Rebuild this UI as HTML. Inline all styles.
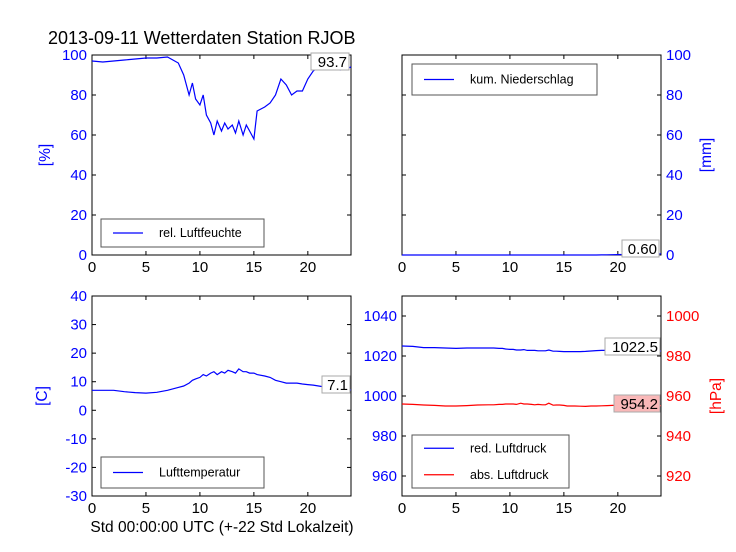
<!DOCTYPE html>
<html><head><meta charset="utf-8"><style>
body{margin:0;background:#fff}
svg{display:block;font-family:"Liberation Sans",sans-serif}
</style></head><body>
<svg id="c" width="736" height="552" viewBox="0 0 736 552">
<rect width="736" height="552" fill="#fff"/>
<text x="48" y="44" font-size="18">2013-09-11 Wetterdaten Station RJOB</text>
<text x="222" y="532" font-size="15.5" text-anchor="middle">Std 00:00:00 UTC (+-22 Std Lokalzeit)</text>
</svg>
<script>
const hours=[0,1,2,3,4,5,6,7,8,8.5,9,9.3,9.6,10,10.3,10.6,11,11.3,11.6,12,12.3,12.6,13,13.3,13.6,14,14.3,14.6,15,15.3,16,16.5,17,17.5,18,18.5,19,19.5,20,20.5,21,21.5,22,22.5,23,23.5,24];
const humidity=[97,96.5,97,97.5,98,98.5,98.5,99,96,90,80,86,78,75,80,70,66,60,67,62,66,63,65,61,67,60,65,62,58,72,74,76,80,88,85,80,82,82,88,92,94,93,93,93,92.5,93,94];
const precip=[0,0,0,0,0,0,0,0,0,0,0,0,0,0,0,0,0,0,0,0,0,0,0,0,0,0,0,0,0,0,0,0,0,0,0,0.05,0.1,0.15,0.2,0.25,0.3,0.35,0.4,0.45,0.5,0.55,0.6];
const temp=[7,7,7,6.5,6.2,6,6.3,7,8,8.5,9.5,10.5,11,11.5,12.5,12,13,13.5,12.5,13.5,13,14,13.5,13,14.5,13.5,13.5,13,13,12.5,12,11.5,10.5,10,9.5,9.5,9.5,9.2,9,8.8,8.5,8.2,8,7.8,7.5,7.2,7.1];
const redP=[1025,1024.8,1024.2,1024.2,1024,1023.8,1024,1024,1024,1024,1023.8,1023.8,1023.5,1023.3,1023.3,1023,1023,1023.2,1022.8,1022.8,1022.8,1022.6,1022.6,1022.6,1023,1022.4,1022.4,1022.3,1022.2,1022.2,1022.2,1022.2,1022.3,1022.5,1022.7,1022.8,1022.8,1022.8,1022.8,1022.6,1022.6,1022.6,1022.6,1022.5,1022.5,1022.5,1022.5];
const absP=[956,955.8,955.5,955.3,955,955,955.2,955.5,955.6,955.6,955.8,955.8,956,956,956,955.8,956.4,956,956,955.8,955.6,955.8,955.6,955.6,956.4,955.4,955.5,955.5,955.3,955,955,954.9,954.8,955,955,955.1,955.2,955.3,955.3,955.3,955.2,955.2,955.2,955.1,955.1,955.1,955.2];
const xTicks=[0,5,10,15,20];
const NS="http://www.w3.org/2000/svg";
const svg=document.getElementById('c');
function mk(tag,attrs,txt){const e=document.createElementNS(NS,tag);for(const k in attrs)e.setAttribute(k,attrs[k]);if(txt!==undefined)e.textContent=txt;svg.appendChild(e);return e;}
function panel(p){
 const fx=v=>p.x0+(v-0)/24*(p.x1-p.x0);
 const box=mk('rect',{x:p.x0,y:p.y0,width:p.x1-p.x0,height:p.y1-p.y0,fill:'none',stroke:'#000','stroke-width':1});
 
 
 xTicks.forEach(t=>{const x=fx(t);
  mk('line',{x1:x,x2:x,y1:p.y1,y2:p.y1-4,stroke:'#000'});
  mk('line',{x1:x,x2:x,y1:p.y0,y2:p.y0+4,stroke:'#000'});
  const l=mk('text',{x:x,y:p.y1+17,'font-size':15,'text-anchor':'middle'},t);
  
  
 });
 p.axes.forEach(a=>{
  const fy=v=>p.y1-(v-a.min)/(a.max-a.min)*(p.y1-p.y0);
  a.ticks.forEach(t=>{const y=fy(t);
   mk('line',{x1:p.x0,x2:p.x0+4,y1:y,y2:y,stroke:'#000'});
   mk('line',{x1:p.x1,x2:p.x1-4,y1:y,y2:y,stroke:'#000'});
   const l=mk('text',{x:a.side=='l'?p.x0-5:p.x1+5,y:y+5,'font-size':15,'text-anchor':a.side=='l'?'end':'start',fill:a.color},t);
   
   
  });
  const lx=a.lx, ly=(p.y0+p.y1)/2;
  const lab=mk('text',{x:lx,y:ly,'font-size':15.5,'text-anchor':'middle',fill:a.color,transform:`rotate(-90 ${lx} ${ly})`},a.label);
  
  
  a.series.forEach(s=>{
   const d=hours.map((h,i)=>(i?'L':'M')+fx(h).toFixed(1)+','+fy(s.data[i]).toFixed(1)).join(' ');
   const pl=mk('path',{d:d,fill:'none',stroke:s.color,'stroke-width':1.2});
   
   
  });
 });
}
panel({name:'humidity',x0:92,x1:351,y0:55,y1:255,axes:[{min:0,max:100,ticks:[0,20,40,60,80,100],side:'l',color:'#00f',label:'[%]',lx:50,series:[{data:humidity,color:'#00f',name:'humidity-line'}]}]});
panel({name:'precip',x0:402,x1:661,y0:55,y1:255,axes:[{min:0,max:100,ticks:[0,20,40,60,80,100],side:'r',color:'#00f',label:'[mm]',lx:711,series:[{data:precip,color:'#00f',name:'precip-line'}]}]});
panel({name:'temp',x0:92,x1:351,y0:296,y1:496,axes:[{min:-30,max:40,ticks:[-30,-20,-10,0,10,20,30,40],side:'l',color:'#00f',label:'[C]',lx:47,series:[{data:temp,color:'#00f',name:'temp-line'}]}]});
panel({name:'pressure',x0:402,x1:661,y0:296,y1:496,axes:[
 {min:950,max:1050,ticks:[960,980,1000,1020,1040],side:'l',color:'#00f',label:'',lx:0,series:[{data:redP,color:'#00f',name:'red-pressure-line'}]},
 {min:910,max:1010,ticks:[920,940,960,980,1000],side:'r',color:'#f00',label:'[hPa]',lx:721,series:[{data:absP,color:'#f00',name:'abs-pressure-line'}]}]});
function legend(name,x,y,w,h,items){
 const r=mk('rect',{x:x,y:y,width:w,height:h,fill:'#fff',stroke:'#555','stroke-width':1});
 
 
 items.forEach((it,i)=>{const cy=y+h/(items.length)*(i+0.5);
  mk('line',{x1:x+12,x2:x+42,y1:cy,y2:cy,stroke:it.c,'stroke-width':1.2});
  const t=mk('text',{x:x+58,y:cy+4,'font-size':12.5},it.t);
  
  
 });
}
legend('humidity-legend',101,219,163,28,[{c:'#00f',t:'rel. Luftfeuchte'}]);
legend('precip-legend',412,64,185,31,[{c:'#00f',t:'kum. Niederschlag'}]);
legend('temp-legend',101,457,163,31,[{c:'#00f',t:'Lufttemperatur'}]);
legend('pressure-legend',412,435,157,53,[{c:'#00f',t:'red. Luftdruck'},{c:'#f00',t:'abs. Luftdruck'}]);
function vbox(name,x,y,w,txt,fill){
 mk('rect',{x:x,y:y,width:w,height:17,fill:fill,stroke:'#aaa'});
 const t=mk('text',{x:x+w-2,y:y+14,'font-size':15,'text-anchor':'end'},txt);
 
 
}
vbox('humidity-last-value',311,53,38,'93.7','#fff');
vbox('precip-last-value',622,240,37,'0.60','#fff');
vbox('temp-last-value',322,376,28,'7.1','#fff');
vbox('red-pressure-last-value',605,338,55,'1022.5','#fff');
vbox('abs-pressure-last-value',614,395,46,'954.2','#f9b8b8');
</script>
</body></html>
